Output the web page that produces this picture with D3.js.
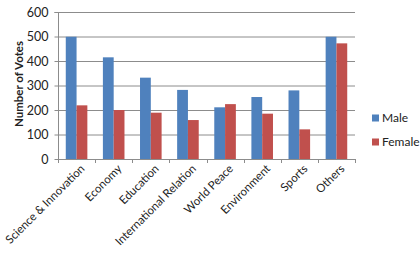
<!DOCTYPE html>
<html><head><meta charset="utf-8">
<script src="https://cdn.jsdelivr.net/npm/d3@7"></script>
<style>body{margin:0;background:#fff}svg{display:block}text{font-family:Lato,"Liberation Sans",sans-serif;fill:#222}</style>
</head><body>
<svg id="c" width="420" height="259"></svg>
<script>
const categories = ["Science & Innovation","Economy","Education","International Relation","World Peace","Environment","Sports","Others"];
const male = [499, 415, 332, 282, 211, 253, 280, 499];
const female = [219, 200, 189, 159, 224, 185, 121, 472];
const seriesNames = ["Male","Female"];
const colors = ["#4F81BD","#C0504D"];
const yTicks = [0,100,200,300,400,500,600];

(function(){
const svg = d3.select("#c");
const mL = 58, mR = 355, mT = 12, mB = 159;
const x = d3.scaleBand().domain(categories).range([mL,mR]).paddingInner(0).paddingOuter(0);
const y = d3.scaleLinear().domain([0,600]).range([mB,mT]);
const sub = d3.scaleBand().domain(seriesNames).range([0,x.bandwidth()]).paddingInner(0).paddingOuter(0.72);

svg.append("g").selectAll("line").data(yTicks.filter(d=>d>0)).join("line")
  .attr("x1",mL).attr("x2",mR).attr("y1",d=>y(d)+0.5).attr("y2",d=>y(d)+0.5)
  .attr("stroke","#8c8c8c").attr("stroke-width",1);

const data = [male,female];
seriesNames.forEach((s,si)=>{
  svg.append("g").selectAll("rect").data(categories).join("rect")
    .attr("x",c=>x(c)+sub(s)).attr("width",sub.bandwidth())
    .attr("y",(c,i)=>y(data[si][i])).attr("height",(c,i)=>mB-y(data[si][i]))
    .attr("fill",colors[si]);
});

const ya = svg.append("g").attr("transform",`translate(${mL+0.5},0)`)
  .call(d3.axisLeft(y).tickValues(yTicks).tickSize(4).tickPadding(6));
ya.select(".domain").attr("stroke","#8c8c8c").attr("d",`M-4,${mT+0.5}H0V${mB+0.5}`);
ya.selectAll(".tick line").attr("stroke","#8c8c8c");
ya.selectAll("text").style("font-size","12.5px").attr("fill","#222");

const xa = svg.append("g").attr("transform",`translate(0,${mB+0.5})`)
  .call(d3.axisBottom(x).tickSize(0));
xa.select(".domain").attr("stroke","#8c8c8c").attr("d",`M${mL},0H${mR}`);
xa.selectAll(".tick line").remove();
svg.append("g").selectAll("line").data(d3.range(categories.length+1)).join("line")
  .attr("x1",i=>Math.round(mL+i*x.step())+0.5).attr("x2",i=>Math.round(mL+i*x.step())+0.5)
  .attr("y1",mB).attr("y2",mB+4).attr("stroke","#8c8c8c");
xa.selectAll("text").style("font-size","11.5px").attr("text-anchor","end")
  .attr("transform","translate(6,7) rotate(-45)").attr("dy","0.35em").attr("y",0).attr("fill","#222");

svg.append("text").attr("transform","translate(19,84) rotate(-90)").attr("text-anchor","middle")
  .attr("dy","0.35em").style("font-size","11.5px").style("font-weight","bold").text("Number of Votes");

const lg = svg.append("g");
seriesNames.forEach((s,i)=>{
  const yy = 118 + i*24;
  lg.append("rect").attr("x",372).attr("y",yy-3.5).attr("width",7).attr("height",7).attr("fill",colors[i]);
  lg.append("text").attr("x",382).attr("y",yy).attr("dy","0.35em").style("font-size","12px").text(s);
});
})();
</script>
</body></html>
